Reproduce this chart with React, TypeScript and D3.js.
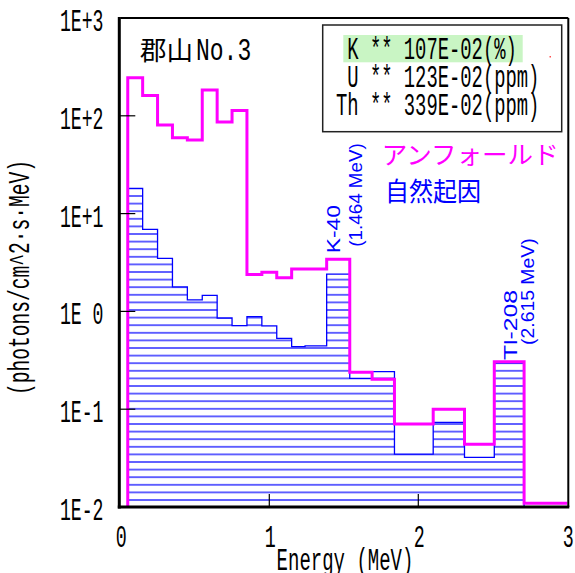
import * as d3 from 'd3';

// bin edges (MeV) and flux values (photons/cm^2·s·MeV)
const edges = [0.05, 0.15, 0.25, 0.35, 0.45, 0.55, 0.65, 0.75, 0.85, 0.95, 1.05, 1.15, 1.24, 1.385, 1.54, 1.69, 1.84, 2.1, 2.31, 2.51, 2.71, 3.0];
const unfolded = [245, 161, 80.5, 59.7, 56.6, 184, 86.4, 113, 2.39, 2.51, 2.21, 2.71, 2.71, 3.41, 0.238, 0.202, 0.0706, 0.0998, 0.0438, 0.306, 0.0109];
const natural = [18.1, 6.91, 3.49, 1.78, 1.31, 1.46, 0.856, 0.714, 0.883, 0.71, 0.531, 0.436, 0.445, 2.41, 0.207, 0.242, 0.0348, 0.0735, 0.0322, 0.297, 0.01];

const xTicks = [0, 1, 2, 3];
const yTicks = [1e3, 1e2, 1e1, 1, 1e-1, 1e-2];

const elements = ['K', 'U', 'Th'];
const contents = ['107E-02', '123E-02', '339E-02'];
const units = ['%', 'ppm', 'ppm'];

const peaks = [
  { name: 'K-40', energy: '(1.464 MeV)' },
  { name: 'Tl-208', energy: '(2.615 MeV)' },
];

const W = 575;
const H = 573;
const MONO = '"Liberation Mono", monospace';
const SANS = '"Liberation Sans", Arial, sans-serif';
const CJK = '"Noto Sans CJK JP", sans-serif';
const MAGENTA = '#ff00ff';
const BLUE = '#0000ff';

const x = d3.scaleLinear().domain([0, 3]).range([120.3, 567.3]);
const y = d3.scaleLog().domain([0.01, 1000]).range([507, 18]);

type Pt = [number, number];

function stepPoints(vals: number[]): Pt[] {
  const pts: Pt[] = [[edges[0], 0.01]];
  vals.forEach((v, i) => {
    pts.push([edges[i], v]);
    pts.push([edges[i + 1], v]);
  });
  return pts;
}

const line = d3.line<Pt>().x((d) => x(d[0])).y((d) => y(d[1]));
const area = d3.area<Pt>().x((d) => x(d[0])).y0(y(0.01)).y1((d) => y(d[1]));

function yLabel(v: number) {
  const e = Math.round(Math.log10(v));
  if (e > 0) return `1E+${e}`;
  if (e === 0) return '1E 0';
  return `1E${e}`;
}

function Mono({ s, x0, y0, cw = 11.3, fs = 31, anchor = 'start', fill = '#000' }: { s: string; x0: number; y0: number; cw?: number; fs?: number; anchor?: string; fill?: string }) {
  const L = s.length * cw;
  const xs = anchor === 'end' ? x0 - L : anchor === 'middle' ? x0 - L / 2 : x0;
  return (
    <text x={xs} y={y0} fontSize={fs} fontFamily={MONO} fill={fill} textLength={L} lengthAdjust="spacingAndGlyphs" style={{ whiteSpace: 'pre' }}>
      {s}
    </text>
  );
}

export default function App() {
  const [x0, x1] = x.range();
  const [yb, yt] = y.range();
  const hatchY = 500 - 3.8;

  // rotated peak labels: [baseline x, start y, length] for name and energy
  const peakPos = [
    { nx: 340, ny: 253.3, nl: 48.3, ex: 362, ey: 246.7, el: 103.4 },
    { nx: 516.7, ny: 360, nl: 70, ex: 533.5, ey: 345, el: 106.7 },
  ];

  return (
    <svg width={W} height={H} style={{ position: 'absolute', left: 0, top: 0, background: '#fff' }}>
      <defs>
        <pattern id="hatch" patternUnits="userSpaceOnUse" x={0} y={hatchY} width={10} height={7.6}>
          <line x1={0} x2={10} y1={3.8} y2={3.8} stroke={BLUE} strokeWidth={1.2} />
        </pattern>
      </defs>

      {/* 自然起因 */}
      <path d={area(stepPoints(natural)) ?? ''} fill="url(#hatch)" stroke="none" />
      <path d={line(stepPoints(natural)) ?? ''} fill="none" stroke={BLUE} strokeWidth={1.3} />

      {/* アンフォールド */}
      <path d={line(stepPoints(unfolded)) ?? ''} fill="none" stroke={MAGENTA} strokeWidth={3} strokeLinejoin="miter" />

      {/* frame */}
      <line x1={x0} x2={x1 + 1} y1={yt} y2={yt} stroke="#000" strokeWidth={2} />
      <line x1={x1 + 1} x2={x1 + 1} y1={yt} y2={yb} stroke="#000" strokeWidth={2} />
      <line x1={x0 - 1} x2={x0 - 1} y1={yt - 1} y2={yb + 1.5} stroke="#000" strokeWidth={3} />
      <line x1={x0 - 2.5} x2={x1 + 2} y1={yb} y2={yb} stroke="#000" strokeWidth={3} />

      {/* ticks */}
      {yTicks.slice(1, -1).map((t) => (
        <line key={t} x1={x0 - 1} x2={x0 + 15} y1={y(t)} y2={y(t)} stroke="#000" strokeWidth={1.2} />
      ))}
      {xTicks.slice(1, -1).map((t) => (
        <line key={t} x1={x(t)} x2={x(t)} y1={yb} y2={yb - 13} stroke="#000" strokeWidth={1.2} />
      ))}

      {yTicks.map((t) => (
        <Mono key={t} s={yLabel(t)} x0={103.5} y0={y(t) + 13} cw={10.9} anchor="end" />
      ))}
      {xTicks.map((t) => (
        <Mono key={t} s={String(t)} x0={x(t) + 1} y0={547} cw={11} anchor="middle" />
      ))}

      <Mono s="Energy (MeV)" x0={345} y0={570} cw={11.4} anchor="middle" />
      <g transform="translate(29,277.5) rotate(-90)">
        <Mono s="(photons/cm^2·s·MeV)" x0={0} y0={0} cw={11.75} fs={29} anchor="middle" />
      </g>

      {/* title */}
      <text x={140} y={60} fontSize={26} fontFamily={CJK} textLength={53} lengthAdjust="spacingAndGlyphs">郡山</text>
      <Mono s="No.3" x0={196} y0={60} cw={13.8} fs={32} />

      {/* content box */}
      <rect x={322.7} y={25} width={239} height={106.7} fill="#fff" stroke="#222" strokeWidth={1.5} />
      <rect x={343.3} y={35} width={179.4} height={27.3} fill="#c9f5c4" />
      <rect x={549.5} y={56} width={1.5} height={1.5} fill="#ff5050" />
      {elements.map((el, i) => (
        <Mono key={el} s={`${el.padStart(2)} ** ${contents[i]}(${units[i]})`} x0={336} y0={59.3 + i * 27.9} cw={11.3} fs={32} />
      ))}

      {/* legend */}
      <text x={381.7} y={164} fontSize={25} fontFamily={CJK} fill={MAGENTA} textLength={177} lengthAdjust="spacingAndGlyphs">アンフォールド</text>
      <text x={385} y={200.5} fontSize={26} fontFamily={CJK} fill={BLUE} textLength={96} lengthAdjust="spacingAndGlyphs">自然起因</text>

      {/* peak labels */}
      {peaks.map((p, i) => {
        const q = peakPos[i];
        return (
          <g key={p.name} fill={BLUE} fontFamily={SANS} fontSize={17.5}>
            <text transform={`translate(${q.nx},${q.ny}) rotate(-90)`} textLength={q.nl} lengthAdjust="spacingAndGlyphs">{p.name}</text>
            <text transform={`translate(${q.ex},${q.ey}) rotate(-90)`} textLength={q.el} lengthAdjust="spacingAndGlyphs" style={{ whiteSpace: 'pre' }}>{p.energy}</text>
          </g>
        );
      })}
    </svg>
  );
}
